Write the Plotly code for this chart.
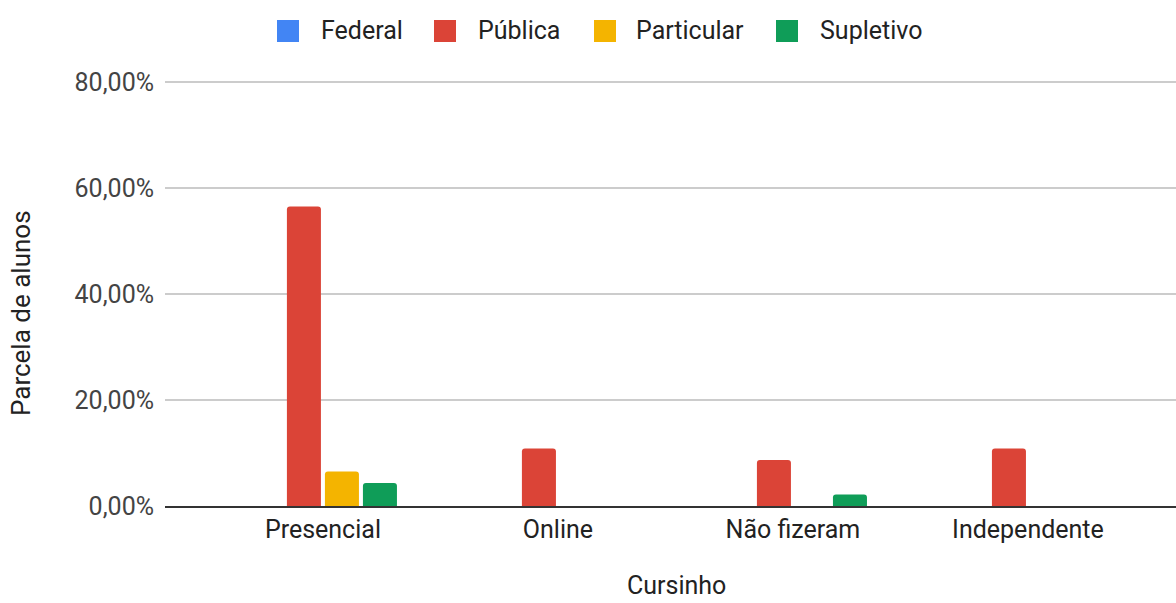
import plotly.graph_objects as go

# Share of students by prep course ("cursinho") and school type
categories = ["Presencial", "Online", "Não fizeram", "Independente"]
series_names = ["Federal", "Pública", "Particular", "Supletivo"]
federal = [0, 0, 0, 0]
publica = [56.52, 10.87, 8.70, 10.87]
particular = [6.52, 0, 0, 0]
supletivo = [4.35, 0, 2.17, 0]
y_ticks = [0, 20, 40, 60, 80]
y_tick_labels = [f"{v:.2f}".replace(".", ",") + "%" for v in y_ticks]
x_title = "Cursinho"
y_title = "Parcela de alunos"

colors = ["#4285F4", "#DB4437", "#F4B400", "#0F9D58"]
values = [federal, publica, particular, supletivo]

W, H = 1176, 603
L, R, T, B = 165, 0, 78, 97
plot_w = W - L - R
plot_h = H - T - B
# keep 80 % a few pixels below the top edge so its gridline is drawn
y_top = 80 * plot_h / 424

FONT = "Roboto"
TXT = "#222222"

fig = go.Figure()
for name, vals, col in zip(series_names, values, colors):
    fig.add_trace(go.Bar(
        name=name, x=categories, y=vals,
        marker=dict(color=col, line=dict(width=0)),
        showlegend=False,
        hovertemplate="%{x}<br>" + name + ": %{y:.2f}%<extra></extra>",
    ))


def px_x(px):
    return (px - L) / plot_w


def px_y(py):
    return (H - B - py) / plot_h


# Legend row across the top (square swatch + label)
legend_swatch_x = [277, 434, 594, 776]
legend_text_x = [319, 476, 634, 818]
legend_cy = 31
sw = 22

shapes = []
annotations = []
for name, col, sx, tx in zip(series_names, colors, legend_swatch_x, legend_text_x):
    shapes.append(dict(
        type="rect", xref="paper", yref="paper",
        x0=px_x(sx), x1=px_x(sx + sw),
        y0=px_y(legend_cy + sw / 2), y1=px_y(legend_cy - sw / 2),
        fillcolor=col, line=dict(width=0), layer="above",
    ))
    annotations.append(dict(
        text=name, xref="paper", yref="paper",
        x=px_x(tx), y=px_y(legend_cy), xanchor="left", yanchor="middle",
        showarrow=False, font=dict(family=FONT, size=25, color=TXT),
    ))

# Axis titles
annotations.append(dict(
    text=x_title, xref="paper", yref="paper",
    x=px_x(676), y=px_y(602), xanchor="center", yanchor="bottom",
    showarrow=False, font=dict(family=FONT, size=25, color=TXT),
))
annotations.append(dict(
    text=y_title, xref="paper", yref="paper", textangle=-90,
    x=px_x(21), y=px_y(313), xanchor="center", yanchor="middle",
    showarrow=False, font=dict(family=FONT, size=26, color=TXT),
))

fig.update_layout(
    width=W, height=H,
    margin=dict(l=L, r=R, t=T, b=B),
    paper_bgcolor="white", plot_bgcolor="white",
    barmode="group", bargap=0.353, bargroupgap=0.105,
    barcornerradius=3,
    font=dict(family=FONT, size=25, color=TXT),
    shapes=shapes, annotations=annotations,
    showlegend=False,
)

fig.update_xaxes(
    type="category", range=[-0.672, 3.63],
    showgrid=False, showline=True, linecolor="#333333", linewidth=2,
    ticks="", tickfont=dict(family=FONT, size=25, color=TXT),
    fixedrange=True,
)

fig.update_yaxes(
    range=[0, y_top], tickmode="array", tickvals=y_ticks, ticktext=y_tick_labels,
    showgrid=True, gridcolor="#cccccc", gridwidth=1.5,
    zeroline=False, showline=False, ticks="",
    ticklabelstandoff=10,
    tickfont=dict(family=FONT, size=25, color="#444444"),
    fixedrange=True,
)

fig.write_html("out.html")
